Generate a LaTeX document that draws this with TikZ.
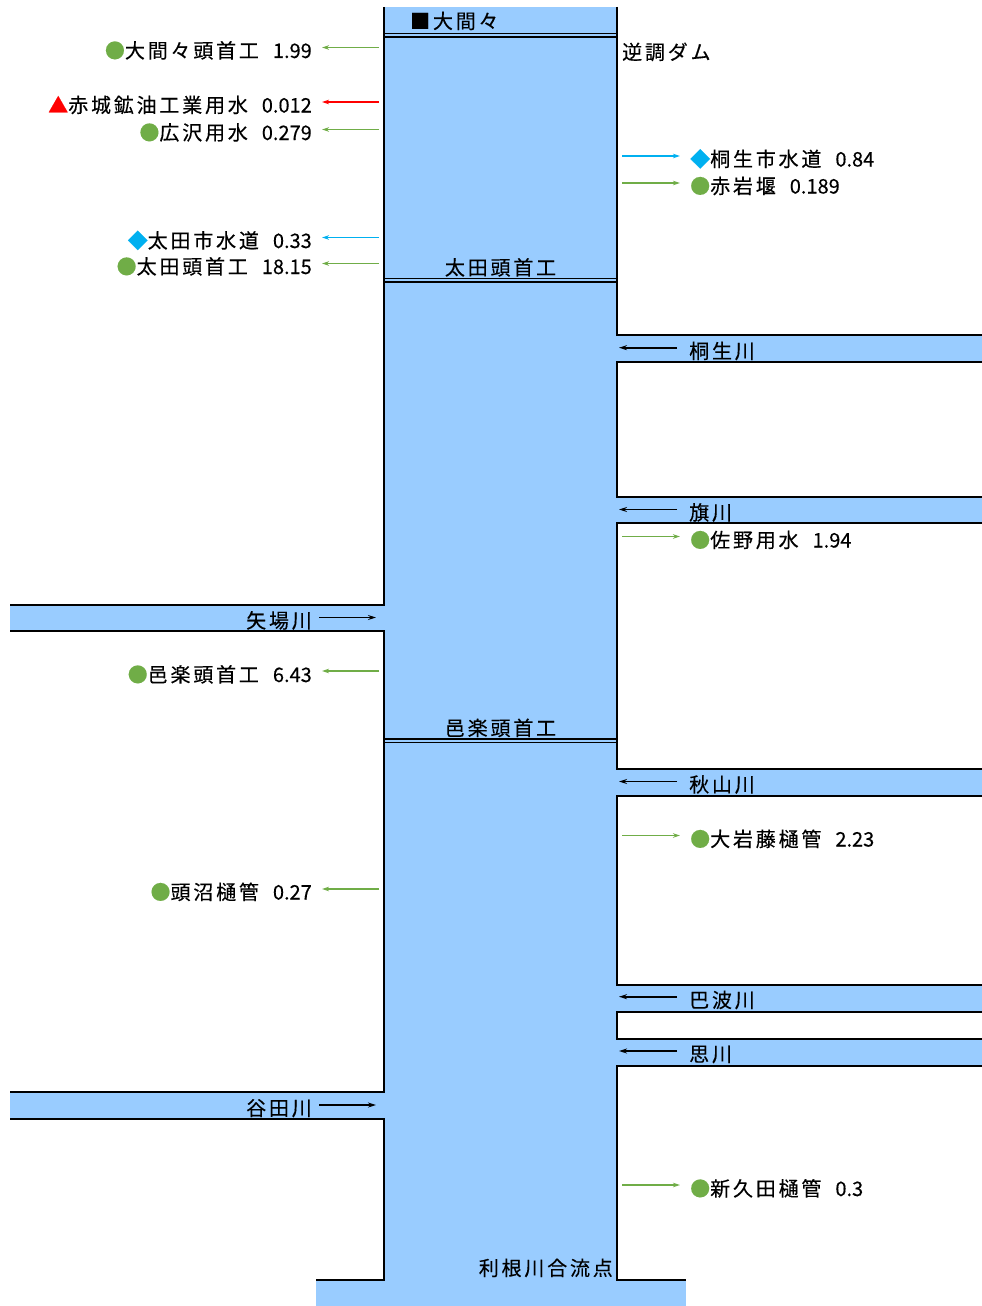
\documentclass[tikz,border=0pt]{standalone}
\usepackage{fontspec}
\setmainfont{Noto Sans CJK JP}[FakeBold=0.3]
\newfontfamily\jp{Noto Sans CJK JP}[LetterSpace=14,FakeBold=0.3]
\usetikzlibrary{arrows.meta}
\definecolor{riv}{RGB}{153,204,255}
\definecolor{gr}{RGB}{112,173,71}
\definecolor{bl}{RGB}{0,176,240}
\definecolor{rd}{RGB}{255,0,0}
\begin{document}
\begin{tikzpicture}[x=1pt,y=-1pt,
  bank/.style={line width=1.9pt,black},
  weirline/.style={line width=1.8pt,black},
  lbl/.style={inner sep=0pt,font=\fontsize{20pt}{24pt}\selectfont},
  wd/.style={line width=1.5pt,-{Stealth[length=7pt,width=4.5pt]}},
  wdg/.style={wd,gr},
  wdb/.style={wd,bl},
  wdr/.style={wd,rd},
  inflow/.style={line width=1.6pt,black,-{Stealth[length=8pt,width=5pt]}}]
\useasboundingbox (0,0) rectangle (982,1306);
% water
\fill[riv] (384,7) rectangle (617,1280);
\fill[riv] (316,1280) rectangle (686,1306);
\fill[riv] (10,605) rectangle (384,631);
\fill[riv] (10,1092) rectangle (384,1119);
\fill[riv] (617,335) rectangle (982,362);
\fill[riv] (617,497) rectangle (982,523);
\fill[riv] (617,769) rectangle (982,796);
\fill[riv] (617,985) rectangle (982,1012);
\fill[riv] (617,1039) rectangle (982,1066);
% banks left
\draw[bank] (384,7) -- (384,605) -- (10,605);
\draw[bank] (10,631) -- (384,631) -- (384,1092) -- (10,1092);
\draw[bank] (10,1119) -- (384,1119) -- (384,1280) -- (316,1280);
% banks right
\draw[bank] (617,7) -- (617,335) -- (985,335);
\draw[bank] (985,362) -- (617,362) -- (617,497) -- (985,497);
\draw[bank] (985,523) -- (617,523) -- (617,769) -- (985,769);
\draw[bank] (985,796) -- (617,796) -- (617,985) -- (985,985);
\draw[bank] (985,1012) -- (617,1012) -- (617,1039) -- (985,1039);
\draw[bank] (985,1066) -- (617,1066) -- (617,1280) -- (686,1280);
% weirs
\draw[weirline] (384,33.5) -- (617,33.5);
\draw[weirline] (384,37) -- (617,37);
\draw[weirline] (384,278.5) -- (617,278.5);
\draw[weirline] (384,282) -- (617,282);
\draw[weirline] (384,739) -- (617,739);
\draw[weirline] (384,742.5) -- (617,742.5);
% channel labels
\node[lbl,anchor=base west] (ohmama) at (410,28.5) {\jp ■大間々};
\node[lbl,anchor=base] (otaw) at (500.5,275) {\jp 太田頭首工};
\node[lbl,anchor=base] (ouraw) at (500.5,735.5) {\jp 邑楽頭首工};
\node[lbl,anchor=base east] (tone) at (613,1275.5) {\jp 利根川合流点};
\node[lbl,anchor=base west] (dam) at (622,59.5) {\jp 逆調ダム};
% left withdrawals
\coordinate (s1) at (379,47.5);
\node[lbl,anchor=base east] (w1) at (312,58) {{\jp\textcolor{gr}{●}大間々頭首工}\hspace{14pt}1.99};
\draw[wdg,shorten >=10pt] (s1) -- (s1 -| w1.east);
\coordinate (s2) at (379,102);
\node[lbl,anchor=base east] (w2) at (312,112.5) {{\jp\textcolor{rd}{▲}赤城鉱油工業用水}\hspace{14pt}0.012};
\draw[wdr,shorten >=10pt] (s2) -- (s2 -| w2.east);
\coordinate (s3) at (379,129.5);
\node[lbl,anchor=base east] (w3) at (312,140) {{\jp\textcolor{gr}{●}広沢用水}\hspace{14pt}0.279};
\draw[wdg,shorten >=10pt] (s3) -- (s3 -| w3.east);
\coordinate (s4) at (379,237.5);
\node[lbl,anchor=base east] (w4) at (312,248) {{\jp\textcolor{bl}{◆}太田市水道}\hspace{14pt}0.33};
\draw[wdb,shorten >=10pt] (s4) -- (s4 -| w4.east);
\coordinate (s5) at (379,263.5);
\node[lbl,anchor=base east] (w5) at (312,274) {{\jp\textcolor{gr}{●}太田頭首工}\hspace{14pt}18.15};
\draw[wdg,shorten >=10pt] (s5) -- (s5 -| w5.east);
\coordinate (s6) at (379,671);
\node[lbl,anchor=base east] (w6) at (312,682) {{\jp\textcolor{gr}{●}邑楽頭首工}\hspace{14pt}6.43};
\draw[wdg,shorten >=10pt] (s6) -- (s6 -| w6.east);
\coordinate (s7) at (379,889);
\node[lbl,anchor=base east] (w7) at (312,899.5) {{\jp\textcolor{gr}{●}頭沼樋管}\hspace{14pt}0.27};
\draw[wdg,shorten >=10pt] (s7) -- (s7 -| w7.east);
% right withdrawals
\coordinate (r1) at (622,156);
\node[lbl,anchor=base west] (v1) at (690,166.5) {{\jp\textcolor{bl}{◆}桐生市水道}\hspace{14pt}0.84};
\draw[wdb,shorten >=10pt] (r1) -- (r1 -| v1.west);
\coordinate (r2) at (622,183);
\node[lbl,anchor=base west] (v2) at (690,193.5) {{\jp\textcolor{gr}{●}赤岩堰}\hspace{14pt}0.189};
\draw[wdg,shorten >=10pt] (r2) -- (r2 -| v2.west);
\coordinate (r3) at (622,536.5);
\node[lbl,anchor=base west] (v3) at (690,547.5) {{\jp\textcolor{gr}{●}佐野用水}\hspace{14pt}1.94};
\draw[wdg,shorten >=10pt] (r3) -- (r3 -| v3.west);
\coordinate (r4) at (622,835.5);
\node[lbl,anchor=base west] (v4) at (690,846.5) {{\jp\textcolor{gr}{●}大岩藤樋管}\hspace{14pt}2.23};
\draw[wdg,shorten >=10pt] (r4) -- (r4 -| v4.west);
\coordinate (r5) at (622,1185);
\node[lbl,anchor=base west] (v5) at (690,1196) {{\jp\textcolor{gr}{●}新久田樋管}\hspace{14pt}0.3};
\draw[wdg,shorten >=10pt] (r5) -- (r5 -| v5.west);
% tributaries left
\coordinate (yIn) at (376,617.5);
\node[lbl,anchor=base east] (yaba) at (312,628) {\jp 矢場川};
\draw[inflow,shorten <=7pt] (yIn -| yaba.east) -- (yIn);
\coordinate (tIn) at (376,1105);
\node[lbl,anchor=base east] (yata) at (312,1115.5) {\jp 谷田川};
\draw[inflow,shorten <=7pt] (tIn -| yata.east) -- (tIn);
% tributaries right
\coordinate (kIn) at (619,347.7);
\node[lbl,anchor=base west] (kiryu) at (689,358.5) {\jp 桐生川};
\draw[inflow,shorten <=12pt] (kIn -| kiryu.west) -- (kIn);
\coordinate (hIn) at (619,509.5);
\node[lbl,anchor=base west] (hata) at (689,520) {\jp 旗川};
\draw[inflow,shorten <=12pt] (hIn -| hata.west) -- (hIn);
\coordinate (aIn) at (619,781.5);
\node[lbl,anchor=base west] (aki) at (689,792) {\jp 秋山川};
\draw[inflow,shorten <=12pt] (aIn -| aki.west) -- (aIn);
\coordinate (uIn) at (619,996.7);
\node[lbl,anchor=base west] (uzuma) at (689,1007.5) {\jp 巴波川};
\draw[inflow,shorten <=12pt] (uIn -| uzuma.west) -- (uIn);
\coordinate (oIn) at (619,1051);
\node[lbl,anchor=base west] (omoi) at (689,1061.5) {\jp 思川};
\draw[inflow,shorten <=12pt] (oIn -| omoi.west) -- (oIn);
\end{tikzpicture}
\end{document}
